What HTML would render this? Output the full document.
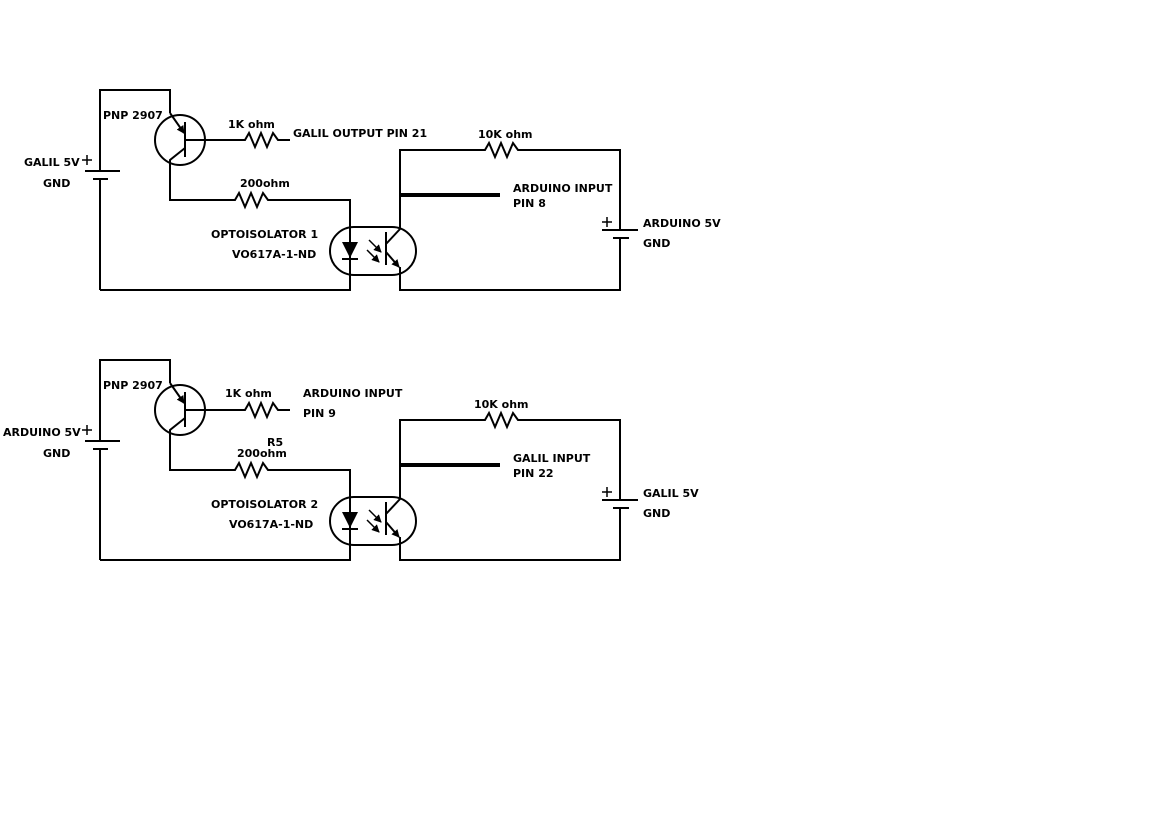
<!DOCTYPE html>
<html><head><style>
html,body{margin:0;padding:0;background:#fff;}
svg{display:block;}
text{font-family:"DejaVu Sans","Liberation Sans",sans-serif;font-size:11px;font-weight:bold;fill:#000;}
</style></head><body>
<svg width="1169" height="826" viewBox="0 0 1169 826" xmlns="http://www.w3.org/2000/svg">
<defs>
<marker id="ah" markerWidth="8" markerHeight="8" refX="7" refY="4" orient="auto" markerUnits="userSpaceOnUse">
<path d="M0,0 L8,4 L0,8 z" fill="#000"/>
</marker>
<g id="ckt" fill="none" stroke="#000" stroke-width="2">
  <polyline points="100,170 100,90 170,90 170,113"/>
  <line x1="85" y1="171" x2="120" y2="171"/>
  <line x1="93" y1="179" x2="108" y2="179"/>
  <line x1="100" y1="179" x2="100" y2="290"/>
  <path d="M82,160 h10 M87,155 v10" stroke-width="1.5"/>
  <circle cx="180" cy="140" r="25"/>
  <line x1="185" y1="122" x2="185" y2="157"/>
  <line x1="170" y1="113" x2="184" y2="133" marker-end="url(#ah)"/>
  <polyline points="185,148 170,160 170,200 230,200"/>
  <line x1="185" y1="140" x2="230" y2="140"/>
  <polyline points="230,140 245,140 249,133 255,147 261,133 267,147 273,133 278,140 290,140"/>
  <polyline points="230,200 235,200 239,193 245,207 251,193 257,207 263,193 268,200 350,200 350,290 100,290"/>
  <rect x="330" y="227" width="86" height="48" rx="24" ry="24"/>
  <line x1="342" y1="259" x2="358" y2="259"/>
  <line x1="369" y1="240" x2="381" y2="252" stroke-width="1.5" marker-end="url(#ah)"/>
  <line x1="367" y1="250" x2="379" y2="262" stroke-width="1.5" marker-end="url(#ah)"/>
  <line x1="386" y1="232" x2="386" y2="265"/>
  <polyline points="386,244 400,229 400,150 480,150"/>
  <line x1="386" y1="252" x2="399" y2="267" marker-end="url(#ah)"/>
  <polyline points="400,267 400,290 620,290 620,240"/>
  <polyline points="480,150 485,150 489,143 495,157 501,143 507,157 513,143 518,150 620,150 620,212"/>
  <line x1="602" y1="230" x2="638" y2="230"/>
  <line x1="613" y1="238" x2="629" y2="238"/>
  <line x1="620" y1="212" x2="620" y2="230"/>
  <line x1="620" y1="238" x2="620" y2="240"/>
  <line x1="400" y1="195" x2="500" y2="195" stroke-width="4"/>
  <path d="M602,222 h10 M607,217 v10" stroke-width="1.5"/>
</g>
</defs>
<use href="#ckt"/>
<use href="#ckt" y="270"/>
<polygon points="342,242 358,242 350,258" fill="#000"/>
<polygon points="342,512 358,512 350,528" fill="#000"/>

<text x="24" y="166">GALIL 5V</text>
<text x="43" y="187">GND</text>
<text x="103" y="119">PNP 2907</text>
<text x="228" y="128">1K ohm</text>
<text x="293" y="137">GALIL OUTPUT PIN 21</text>
<text x="240" y="187">200ohm</text>
<text x="211" y="238">OPTOISOLATOR 1</text>
<text x="232" y="258">VO617A-1-ND</text>
<text x="478" y="138">10K ohm</text>
<text x="513" y="192">ARDUINO INPUT</text>
<text x="513" y="207">PIN 8</text>
<text x="643" y="227">ARDUINO 5V</text>
<text x="643" y="247">GND</text>

<text x="3" y="436">ARDUINO 5V</text>
<text x="43" y="457">GND</text>
<text x="103" y="389">PNP 2907</text>
<text x="225" y="397">1K ohm</text>
<text x="303" y="397">ARDUINO INPUT</text>
<text x="303" y="417">PIN 9</text>
<text x="267" y="446">R5</text>
<text x="237" y="457">200ohm</text>
<text x="211" y="508">OPTOISOLATOR 2</text>
<text x="229" y="528">VO617A-1-ND</text>
<text x="474" y="408">10K ohm</text>
<text x="513" y="462">GALIL INPUT</text>
<text x="513" y="477">PIN 22</text>
<text x="643" y="497">GALIL 5V</text>
<text x="643" y="517">GND</text>
</svg>
</body></html>
